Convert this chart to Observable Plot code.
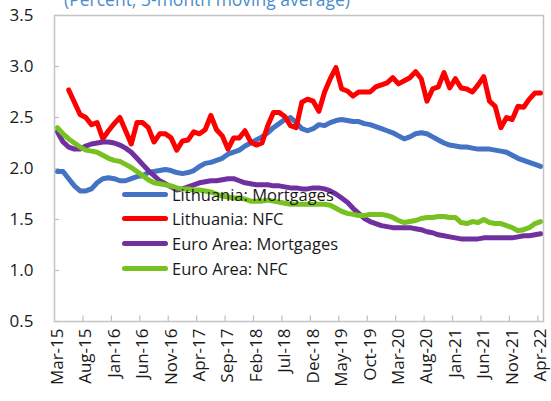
<!DOCTYPE html>
<html><head><meta charset="utf-8">
<script src="https://cdn.jsdelivr.net/npm/d3@7"></script>
<script src="https://cdn.jsdelivr.net/npm/@observablehq/plot@0.6"></script>
<style>
body{margin:0;background:#fff;}
#wrap{position:relative;width:551px;height:401px;overflow:hidden;font-family:"Open Sans",sans-serif;}
#title{position:absolute;left:7px;width:400px;text-align:center;top:-11px;font-size:17.5px;line-height:20px;color:#4a8ccb;white-space:nowrap;}
.leg{position:absolute;left:122px;display:flex;align-items:center;font-size:16.5px;color:#1a1a1a;height:20px;white-space:nowrap;}
.sw{width:46px;height:5px;border-radius:2.5px;margin-right:4px;}
</style></head>
<body><div id="wrap"><div id="chart"></div><div id="title">(Percent; 3-month moving average)</div><div id="legend"></div></div>
<script>
const tickLabels = ["Mar-15","Aug-15","Jan-16","Jun-16","Nov-16","Apr-17","Sep-17","Feb-18","Jul-18","Dec-18","May-19","Oct-19","Mar-20","Aug-20","Jan-21","Jun-21","Nov-21","Apr-22"];
const yTicks = [0.5,1.0,1.5,2.0,2.5,3.0,3.5];
const seriesNames = ["Lithuania: Mortgages","Lithuania: NFC","Euro Area: Mortgages","Euro Area: NFC"];
const seriesColors = ["#4472C4","#FF0000","#7030A0","#77C120"];

const ltMortgages = [1.97,1.97,1.90,1.83,1.78,1.78,1.80,1.86,1.90,1.91,1.90,1.88,1.88,1.90,1.92,1.93,1.96,1.97,1.98,1.99,1.98,1.96,1.95,1.96,1.98,2.02,2.05,2.06,2.08,2.10,2.14,2.16,2.18,2.22,2.25,2.28,2.31,2.35,2.40,2.44,2.48,2.50,2.45,2.39,2.37,2.39,2.43,2.42,2.45,2.47,2.48,2.47,2.46,2.46,2.44,2.43,2.41,2.39,2.37,2.35,2.32,2.29,2.31,2.34,2.35,2.34,2.31,2.28,2.25,2.23,2.22,2.21,2.21,2.20,2.19,2.19,2.19,2.18,2.17,2.16,2.13,2.10,2.08,2.06,2.04,2.02];
const ltNFC = [null,null,2.77,2.65,2.53,2.50,2.43,2.45,2.29,2.37,2.44,2.50,2.37,2.24,2.45,2.45,2.40,2.26,2.34,2.34,2.30,2.18,2.27,2.28,2.36,2.34,2.38,2.52,2.38,2.32,2.19,2.30,2.30,2.37,2.26,2.23,2.25,2.42,2.55,2.55,2.51,2.42,2.40,2.65,2.68,2.66,2.56,2.75,2.88,2.99,2.78,2.76,2.71,2.75,2.75,2.75,2.80,2.82,2.84,2.89,2.83,2.86,2.89,2.95,2.88,2.66,2.78,2.80,2.94,2.79,2.88,2.79,2.78,2.75,2.82,2.90,2.66,2.61,2.40,2.50,2.48,2.61,2.60,2.68,2.74,2.74];
const eaMortgages = [2.36,2.26,2.21,2.19,2.19,2.22,2.24,2.25,2.26,2.26,2.25,2.23,2.20,2.16,2.10,2.04,1.98,1.93,1.88,1.85,1.82,1.79,1.80,1.82,1.84,1.86,1.87,1.88,1.88,1.89,1.90,1.90,1.88,1.86,1.85,1.84,1.84,1.84,1.83,1.83,1.82,1.81,1.81,1.80,1.80,1.81,1.81,1.80,1.78,1.75,1.71,1.67,1.61,1.56,1.51,1.48,1.46,1.44,1.43,1.42,1.42,1.42,1.42,1.41,1.40,1.38,1.37,1.35,1.34,1.33,1.32,1.31,1.31,1.31,1.31,1.32,1.32,1.32,1.32,1.32,1.32,1.33,1.34,1.34,1.35,1.36];
const eaNFC = [2.40,2.34,2.29,2.25,2.21,2.18,2.17,2.16,2.13,2.10,2.08,2.07,2.04,2.01,1.97,1.93,1.89,1.86,1.85,1.84,1.83,1.81,1.80,1.80,1.79,1.79,1.78,1.77,1.75,1.73,1.72,1.71,1.71,1.70,1.68,1.68,1.68,1.69,1.68,1.67,1.66,1.65,1.65,1.65,1.65,1.65,1.65,1.65,1.64,1.61,1.58,1.56,1.55,1.54,1.54,1.55,1.55,1.55,1.54,1.52,1.49,1.47,1.48,1.49,1.51,1.52,1.52,1.53,1.53,1.52,1.52,1.47,1.46,1.48,1.47,1.50,1.47,1.46,1.46,1.44,1.42,1.39,1.40,1.42,1.46,1.48];

const allSeries = [ltMortgages, ltNFC, eaMortgages, eaNFC];
const tickIdx = tickLabels.map((_, k) => k * 5);
const tickBounds = tickIdx.filter(i => i > 0).map(i => i - 0.5);

const lineMarks = allSeries.map((vals, s) =>
  Plot.line(vals.map((v, i) => ({i, v})).filter(d => d.v != null), {
    x: "i", y: "v", stroke: seriesColors[s], strokeWidth: 5, strokeLinejoin: "round", strokeLinecap: "round"
  })
);

const chart = Plot.plot({
  width: 551, height: 401,
  marginLeft: 54, marginRight: 8, marginTop: 15, marginBottom: 80,
  x: {type: "linear", domain: [-0.5, 85.5]},
  y: {domain: [0.5, 3.5]},
  style: {fontFamily: "'Open Sans', sans-serif", fontSize: "17px", color: "#1a1a1a", background: "white", overflow: "visible"},
  marks: [
    Plot.axisY({ticks: yTicks, tickSize: 0, tickPadding: 21, tickFormat: d => d.toFixed(1), fontSize: 17, label: null}),
    Plot.axisX({ticks: tickIdx, tickSize: 0, tickPadding: 7, tickRotate: -90, tickFormat: i => tickLabels[tickIdx.indexOf(i)], fontSize: 17, label: null}),
    Plot.ruleX(tickBounds, {x: d => d, y1: () => 0.5, y2: () => 0.555, stroke: "#bfbfbf", strokeWidth: 1.2}),
    Plot.ruleY(yTicks, {y: d => d, x1: () => -0.5, x2: () => 0.4, stroke: "#bfbfbf", strokeWidth: 1.2}),
    ...lineMarks,
    Plot.frame({stroke: "#c4c4c4", strokeWidth: 1.5})
  ]
});
document.getElementById("chart").appendChild(chart);

const legendTops = [184, 208, 233, 258];
const legend = document.getElementById("legend");
seriesNames.forEach((name, s) => {
  const row = document.createElement("div");
  row.className = "leg";
  row.style.top = legendTops[s] + "px";
  const sw = document.createElement("div");
  sw.className = "sw";
  sw.style.background = seriesColors[s];
  const tx = document.createElement("span");
  tx.textContent = name;
  row.appendChild(sw); row.appendChild(tx);
  legend.appendChild(row);
});
</script>
</body></html>
